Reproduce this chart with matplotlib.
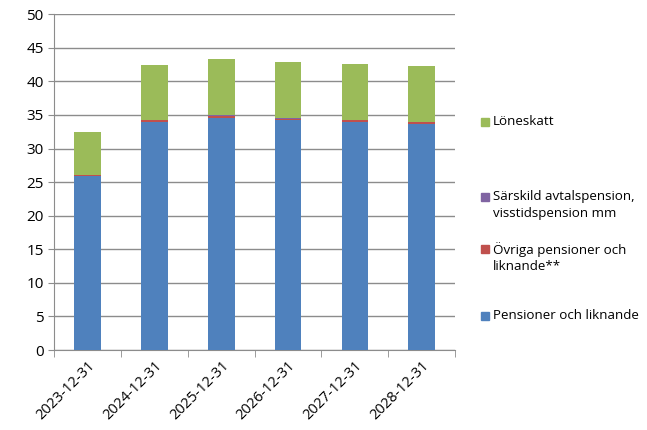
import matplotlib.pyplot as plt
import matplotlib.patches as mpatches
import numpy as np

plt.rcParams['font.family'] = ['Open Sans', 'DejaVu Sans']

datum = ['2023-12-31', '2024-12-31', '2025-12-31', '2026-12-31', '2027-12-31', '2028-12-31']
pensioner = [25.9, 34.0, 34.6, 34.2, 33.9, 33.6]
ovriga = [0.15, 0.3, 0.3, 0.25, 0.4, 0.4]
sarskild = [0.02, 0.02, 0.02, 0.02, 0.02, 0.02]
loneskatt = [6.35, 8.1, 8.4, 8.35, 8.2, 8.2]

serier = ['Pensioner och liknande', 'Övriga pensioner och\nliknande**',
          'Särskild avtalspension,\nvisstidspension mm', 'Löneskatt']
farger = ['#4F81BD', '#C0504D', '#8064A2', '#9BBB59']

W, H = 647, 430
fig = plt.figure(figsize=(W / 100, H / 100), dpi=100)
ax = fig.add_axes([0.0835, 0.186, 0.62, 0.781])

x = np.arange(len(datum))
botten = np.zeros(len(datum))
for varden, farg in zip([pensioner, ovriga, sarskild, loneskatt], farger):
    ax.bar(x, varden, 0.4, bottom=botten, color=farg, zorder=3)
    botten += np.array(varden)

ax.set_xlim(-0.5, len(datum) - 0.5)
ax.set_ylim(0, 50)
ax.set_yticks(range(0, 51, 5))
ax.yaxis.grid(True, color='#8c8c8c', linewidth=1)
ax.set_axisbelow(True)
for s in ['top', 'right']:
    ax.spines[s].set_visible(False)
ax.spines['left'].set_color('#8c8c8c')
ax.spines['bottom'].set_color('#8c8c8c')
ax.tick_params(axis='y', colors='#8c8c8c', labelcolor='black', labelsize=11, length=4)
ax.set_xticks(x)
ax.set_xticklabels(datum, rotation=45, ha='right', rotation_mode='anchor', fontsize=10.5)
ax.tick_params(axis='x', length=0, pad=6)
ax.set_xticks(np.arange(-0.5, len(datum)), minor=True)
ax.tick_params(axis='x', which='minor', length=5, color='#8c8c8c')

# legend drawn by hand: square next to the first line of each label
rad_y = [122, 197, 249, 316]  # pixel centre of first line, top down
for namn, farg, py in zip(reversed(serier), reversed(farger), rad_y):
    yf = 1 - py / H
    fig.patches.append(mpatches.Rectangle((481 / W, yf - 4 / H), 8 / W, 8 / H,
                                          color=farg, transform=fig.transFigure))
    fig.text(493 / W, yf + 7 / H, namn, fontsize=9.6, va='top', ha='left', linespacing=1.35)

fig.savefig('out.png')
